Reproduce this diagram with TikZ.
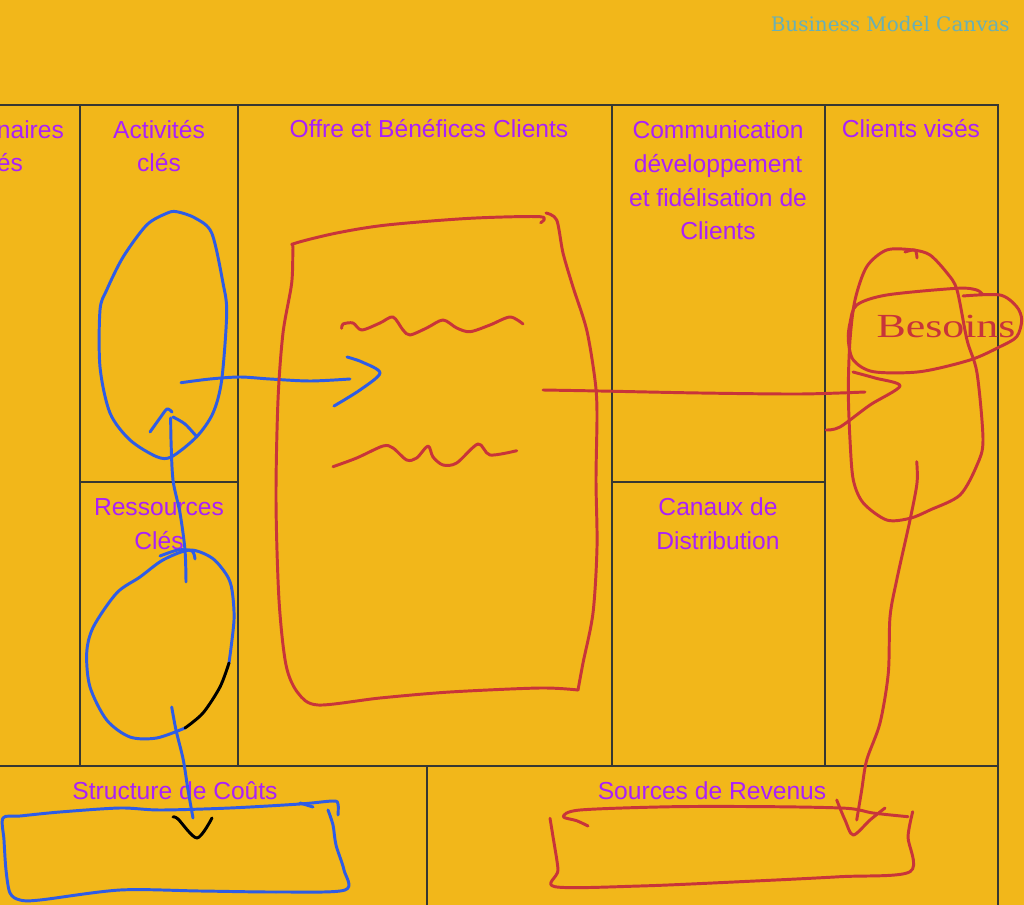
\documentclass[tikz,border=0pt]{standalone}
\usepackage{fontspec}
\setmainfont{Liberation Sans}
\newfontfamily\titlefont{DejaVu Serif}
\newfontfamily\handfont{Liberation Serif}
\usetikzlibrary{positioning}
\definecolor{canvasbg}{RGB}{242,183,26}
\definecolor{labelpurple}{RGB}{170,32,250}
\definecolor{penred}{RGB}{200,52,58}
\definecolor{penblue}{RGB}{46,92,230}
\definecolor{gridgrey}{RGB}{55,55,50}
\definecolor{titleteal}{RGB}{104,176,182}

\begin{document}
\begin{tikzpicture}[x=0.025cm,y=-0.025cm,
	box line/.style={draw=gridgrey,line width=1pt},
	label text/.style={text=labelpurple,font=\fontsize{17.5}{24.1}\selectfont,
		align=center,inner sep=0pt,anchor=base},
	red pen/.style={draw=penred,line width=2.1pt,line cap=round,line join=round},
	blue pen/.style={draw=penblue,line width=2.1pt,line cap=round,line join=round},
	black pen/.style={draw=black,line width=2.1pt,line cap=round,line join=round}]
	
	\fill[canvasbg] (0,0) rectangle (1024,905);
	\useasboundingbox (0,0) rectangle (1024,905);
	\clip (0,0) rectangle (1024,905);
	
	% the canvas
	\draw[box line] (0,105) -- (998,105) -- (998,905);
	\draw[box line] (0,766) -- (998,766);
	\draw[box line] (80,105) -- (80,766) (238,105) -- (238,766);
	\draw[box line] (612,105) -- (612,766) (825,105) -- (825,766);
	\draw[box line] (80,482) -- (238,482) (612,482) -- (825,482);
	\draw[box line] (427,766) -- (427,905);
	
	\node[text=titleteal,font=\titlefont\fontsize{14.2}{14.2}\selectfont,
		anchor=base east,inner sep=0pt] (title) at (1010,32) {Business Model Canvas};
	
	% base = last line
	\node[label text] (partners) at (1,172) {Partenaires\\clés};
	\node[label text] (activities) at (159,172) {Activités\\clés};
	\node[label text] (offer) at (429,138) {Offre et Bénéfices Clients};
	\node[label text] (relation) at (718,240) {Communication\\développement\\et fidélisation de\\Clients};
	\node[label text] (segments) at (911,138) {Clients visés};
	\node[label text] (resources) at (159,549) {Ressources\\Clés};
	\node[label text] (channels) at (718,549) {Canaux de\\Distribution};
	\node[label text] (costs) at (175,799) {Structure de Coûts};
	\node[label text] (revenue) at (712,799) {Sources de Revenus};
	
	% blue sketch
	\draw[blue pen] plot[smooth cycle] coordinates {(176.7,211.7) (195,218) (211.7,233)
		(223,283) (226.7,313) (221.7,380) (213,413) (196.7,436.7) (171.7,456.7)
		(156.7,456.7) (130,440) (110,413) (100,367) (100,310) (106.7,290)
		(123.3,256.7) (146.7,225) (166.7,213.3)};
	\draw[blue pen] plot[smooth] coordinates {(181,382.7) (210,379) (240,377) (270,379)
		(310,381) (350,379)};
	\draw[blue pen] plot[smooth] coordinates {(347,357) (362,362) (380,373) (360,390) (334,406)};
	\draw[blue pen] plot[smooth] coordinates {(186,582) (185,550) (180,513) (173,480)
		(171,440) (170.7,418)};
	\draw[blue pen] plot[smooth] coordinates {(150,432) (160,418) (167,409) (172,412)};
	\draw[blue pen] plot[smooth] coordinates {(173,417) (185,424) (197,437)};
	\draw[blue pen] plot[smooth] coordinates {(229,663) (234,620) (232,590) (226.7,575)
		(212,558) (190,550) (163,560) (140,577) (116.7,593) (93.3,627) (86.7,653)
		(90,687) (106.7,720) (130,737) (156.7,738) (185,728)};
	\draw[blue pen] plot[smooth] coordinates {(160,556) (178,550) (192,551) (195,559)};
	\draw[black pen] plot[smooth] coordinates {(229,663) (220,687) (203,713) (185,728)};
	\draw[blue pen] plot[smooth] coordinates {(171.7,707) (176,730) (183.3,760)
		(188,790) (193,818)};
	\draw[black pen] plot[smooth] coordinates {(173,817) (178,819) (197,838) (212,818)};
	\draw[blue pen] plot[smooth] coordinates {(338,815) (338,804) (333,801) (300,804)
		(230,808) (160,810) (120,808) (60,812) (20,816) (3,818) (4,840) (6,870)
		(10,893) (20,900) (40,900) (120,890) (200,891) (280,892) (345,890)
		(344,870) (336,845) (333,825) (328,810)};
	\draw[blue pen] (300,803) -- (313,807);
	
	% red sketch
	\draw[red pen] plot[smooth] coordinates {(540.7,222.7) (540,216.7) (470,218.3)
		(386.7,225) (336.7,233) (295,243.3) (293,248) (291.7,283) (283,333)
		(278,400) (276,500) (279,600) (286,665) (298,693) (318,705) (380,698)
		(450,692) (540,688) (578,690)};
	\draw[red pen] plot[smooth] coordinates {(546,213) (556.7,220) (563,253) (573,287)
		(586.7,330) (595,380) (597,413) (596,480) (597,547) (593,613) (583,663)
		(578,690)};
	\draw[red pen] plot[smooth] coordinates {(341.7,328.3) (343,324) (353,323)
		(361.7,330) (380,323) (393,317) (403,330) (410,335) (426.7,328) (443,320)
		(456.7,328) (470,331.7) (490,325) (510,317) (523,324)};
	\draw[red pen] plot[smooth] coordinates {(333,466.7) (356.7,458) (383,446) (393,448)
		(406.7,460) (416.7,458) (428,446) (433,457) (443,465) (456.7,463) (478,444)
		(490,455) (516.7,450.7)};
	\draw[red pen] plot[smooth] coordinates {(543,390) (600,391) (700,393) (800,394) (865,392)};
	\draw[red pen] plot[smooth] coordinates {(853,372) (875,378) (900,386) (870,405)
		(840,427) (826,430)};
	\draw[red pen] plot[smooth cycle] coordinates {(913,250) (886.7,250) (866.7,266.7)
		(855,300) (850,340) (848.3,390) (850,440) (853.3,480) (863.3,503) (886.7,520)
		(910,518.3) (930,510) (960,495) (977,465) (983,440) (977,373) (967,340)
		(957,290) (947,273) (930,255)};
	\draw[red pen] plot[smooth] coordinates {(905,252) (915,250) (917,258)};
	\draw[red pen] plot[smooth] coordinates {(963,296) (1000,295) (1016.7,306.7)
		(1021.7,320) (1016.7,336.7) (1000,346.7) (970,360) (920,371.7) (873.3,371.7)
		(853.3,360) (848.3,340) (850,323) (856.7,305) (886.7,295) (956.7,288.3)
		(976.7,290) (983,295)};
	\node[text=penred,font=\handfont\fontsize{24}{24}\selectfont,inner sep=0pt,
		anchor=base] (needs) at (946,338) {\scalebox{1.3}[1]{Besoins}};
	\draw[red pen] plot[smooth] coordinates {(916.7,461.7) (917,483) (910,520)
		(896.7,580) (890,617) (888.3,673) (880,723) (866.7,760) (861.7,790) (856.7,820)};
	\draw[red pen] plot[smooth] coordinates {(836.7,800) (845,820) (853.3,835) (870,820) (885,808)};
	\draw[red pen] plot[smooth] coordinates {(588,826) (576.7,820.7) (563.3,816.7) (580,810)
		(673,806.7) (773,806.7) (846.7,808.3) (873,813) (908,816.7)};
	\draw[red pen] plot[smooth] coordinates {(550,818.3) (553,836.7) (558,870) (555,886.7)
		(640,886) (740,881.7) (840,876.7) (910,871.7) (908,836.7) (912.7,811.7)};
\end{tikzpicture}
\end{document}
